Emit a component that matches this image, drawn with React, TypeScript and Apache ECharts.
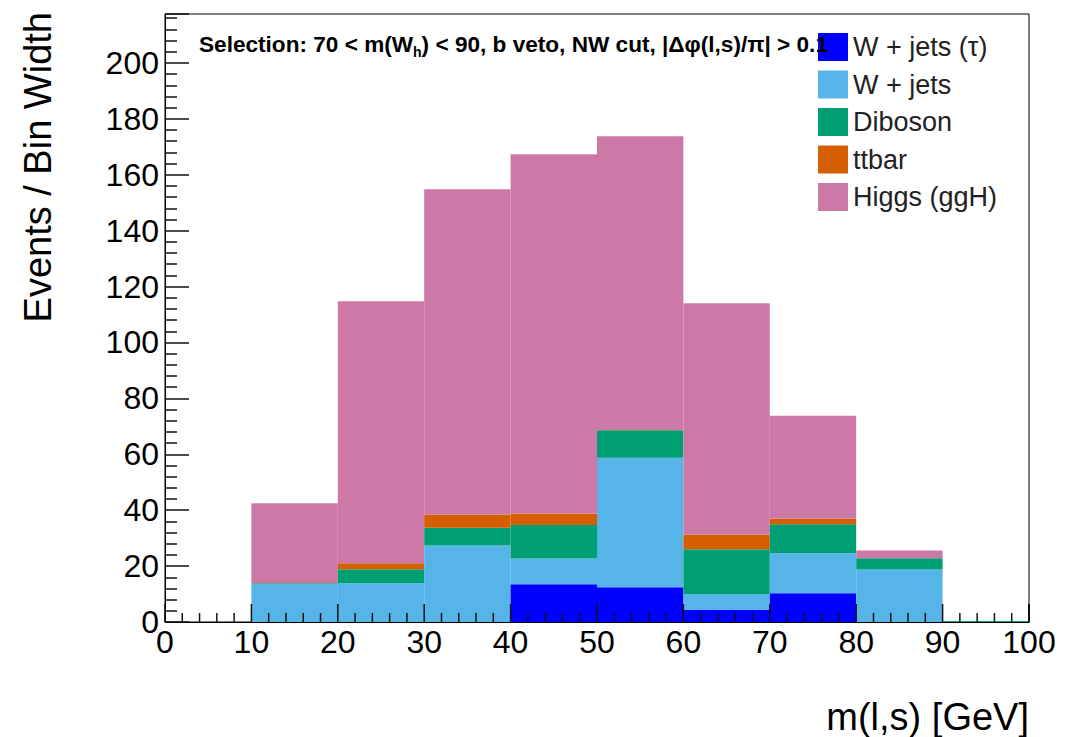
import React, { useEffect, useRef } from "react";
import * as echarts from "echarts";

const binLow = [0, 10, 20, 30, 40, 50, 60, 70, 80, 90];
const binHigh = [10, 20, 30, 40, 50, 60, 70, 80, 90, 100];
const wjetsTau = [0, 0, 0, 0, 13.5, 12.4, 4.3, 10.3, 0, 0];
const wjets = [0, 13.5, 13.9, 27.4, 9.2, 46.4, 5.7, 14.3, 18.8, 0];
const diboson = [0, 0.4, 5.0, 6.3, 12.0, 9.8, 16.0, 10.4, 4.0, 0.3];
const ttbar = [0, 0, 2.1, 4.8, 4.1, 0.1, 5.2, 1.9, 0, 0];
const higgs = [0, 28.6, 93.7, 116.3, 128.5, 105.1, 82.8, 36.9, 2.8, 0];

const seriesNames = ["W + jets (\u03c4)", "W + jets", "Diboson", "ttbar", "Higgs (ggH)"];
const seriesColors = ["#0000ff", "#56b4e9", "#009e73", "#d55e00", "#cc79a7"];

// x-axis tick positions (major every 10, minor every 2)
const xTickValues = [
  0, 2, 4, 6, 8, 10, 12, 14, 16, 18, 20, 22, 24, 26, 28, 30, 32, 34, 36, 38, 40,
  42, 44, 46, 48, 50, 52, 54, 56, 58, 60, 62, 64, 66, 68, 70, 72, 74, 76, 78, 80,
  82, 84, 86, 88, 90, 92, 94, 96, 98, 100,
];

const FONT = "Liberation Sans, Arial, Helvetica, sans-serif";
const TICK_COLOR = "#111";

export default function App() {
  const ref = useRef<HTMLDivElement>(null);
  useEffect(() => {
    if (!ref.current) return;
    const chart = echarts.init(ref.current, null, { renderer: "svg" });
    const histData = binLow.map((lo, i) => [
      lo,
      binHigh[i],
      wjetsTau[i],
      wjets[i],
      diboson[i],
      ttbar[i],
      higgs[i],
    ]);
    chart.setOption({
      animation: false,
      backgroundColor: "#ffffff",
      grid: {
        left: 165,
        right: 50,
        top: 14,
        bottom: 115,
        show: true,
        borderColor: "#000",
        borderWidth: 1,
        backgroundColor: "transparent",
      },
      legend: {
        orient: "vertical",
        left: 818,
        top: 33,
        padding: 0,
        itemWidth: 30,
        itemHeight: 28,
        itemGap: 9.5,
        icon: "rect",
        data: seriesNames,
        selectedMode: false,
        z: 20,
        textStyle: { fontSize: 27, color: "#222", fontFamily: FONT, lineHeight: 28 },
      },
      xAxis: {
        type: "value",
        min: 0,
        max: 100,
        interval: 10,
        position: "bottom",
        axisLine: { show: true, lineStyle: { color: "#000", width: 1 } },
        axisTick: { show: false },
        minorTick: { show: false },
        splitLine: { show: false },
        axisLabel: { fontSize: 32, color: "#000", fontFamily: FONT, margin: 4 },
      },
      yAxis: {
        type: "value",
        min: 0,
        max: 217.5,
        interval: 20,
        axisLine: { show: true, lineStyle: { color: "#000", width: 1 } },
        axisTick: { show: true, inside: true, length: 24, lineStyle: { color: TICK_COLOR, width: 1.5 } },
        minorTick: { show: true, splitNumber: 5, length: 12, lineStyle: { color: TICK_COLOR, width: 1.5 } },
        splitLine: { show: false },
        axisLabel: { fontSize: 32, color: "#000", fontFamily: FONT, margin: 6, showMaxLabel: false },
      },
      series: [
        ...seriesNames.map((name, i) => ({
          name,
          type: "bar",
          itemStyle: { color: seriesColors[i] },
          data: [],
        })),
        {
          name: "histogram",
          type: "custom",
          z: 5,
          clip: false,
          silent: true,
          encode: { x: [0, 1], y: [2, 3, 4, 5, 6] },
          data: histData,
          renderItem: (params: any, api: any) => {
            const x0 = api.value(0);
            const x1 = api.value(1);
            const children: any[] = [];
            let base = 0;
            for (let k = 0; k < 5; k++) {
              const v = api.value(2 + k);
              if (v > 0) {
                const pLow = api.coord([x0, base]);
                const pHigh = api.coord([x1, base + v]);
                children.push({
                  type: "rect",
                  shape: {
                    x: pLow[0],
                    y: pHigh[1],
                    width: pHigh[0] - pLow[0],
                    height: pLow[1] - pHigh[1],
                  },
                  style: { fill: seriesColors[k] },
                });
              }
              base += v;
            }
            xTickValues
              .filter((t) => t >= x0 && (t < x1 || t === 100))
              .forEach((t) => {
                const p = api.coord([t, 0]);
                const len = t % 10 === 0 ? 18 : 9;
                children.push({
                  type: "rect",
                  shape: { x: p[0] - 0.75, y: p[1] - len, width: 1.5, height: len },
                  style: { fill: TICK_COLOR },
                });
              });
            return { type: "group", children };
          },
        },
      ],
      graphic: [
        {
          type: "text",
          x: 38,
          y: 12,
          rotation: Math.PI / 2,
          style: {
            text: "Events / Bin Width",
            fontSize: 38,
            fontFamily: FONT,
            fill: "#000",
            align: "right",
            verticalAlign: "middle",
          },
        },
        {
          type: "text",
          x: 1029,
          y: 717,
          style: {
            text: "m(l,s) [GeV]",
            fontSize: 38,
            fontFamily: FONT,
            fill: "#000",
            align: "right",
            verticalAlign: "middle",
          },
        },
        {
          type: "text",
          x: 199,
          y: 29,
          z: 30,
          style: {
            text: "{a|Selection: 70 < m(W}{s|h}{a|) < 90, b veto, NW cut, |\u0394\u03c6(l,s)/\u03c0| > 0.1}",
            fontFamily: FONT,
            fill: "#000",
            align: "left",
            verticalAlign: "top",
            rich: {
              a: { fontSize: 22.6, fontWeight: "bold", fontFamily: FONT, fill: "#000", lineHeight: 30 },
              s: { fontSize: 14, fontWeight: "bold", fontFamily: FONT, fill: "#000", lineHeight: 16, verticalAlign: "bottom" },
            },
          },
        },
      ],
    });
    return () => chart.dispose();
  }, []);
  return (
    <div
      ref={ref}
      style={{ position: "fixed", left: 0, top: 0, width: 1079, height: 737, background: "#fff" }}
    />
  );
}
